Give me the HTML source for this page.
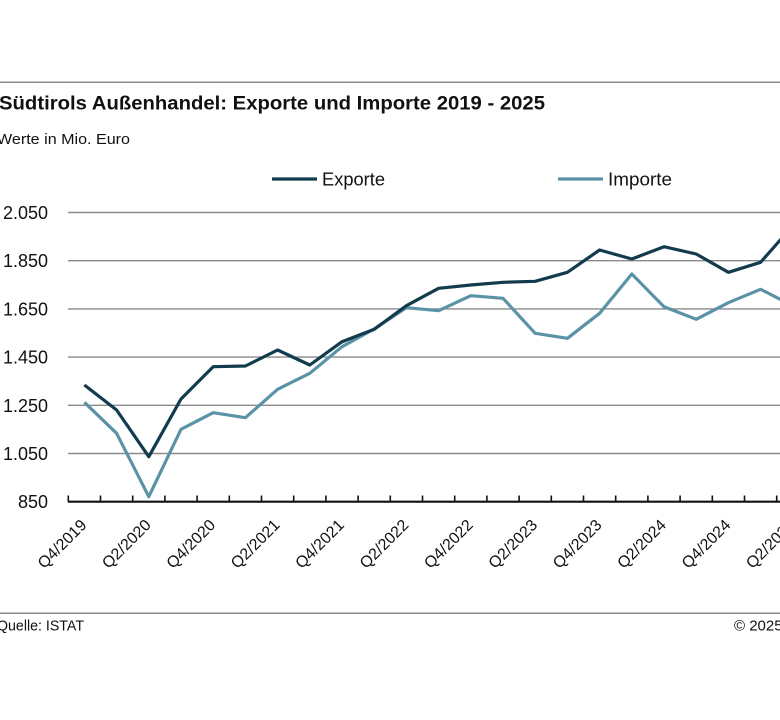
<!DOCTYPE html>
<html><head><meta charset="utf-8"><style>
html,body{margin:0;padding:0;background:#fff;}
svg{display:block;}
text{font-family:"Liberation Sans",sans-serif;fill:#111;}
</style></head><body>
<svg width="780" height="720" viewBox="0 0 780 720" xmlns="http://www.w3.org/2000/svg">
<rect width="780" height="720" fill="#fff"/>
<line x1="0" y1="82.3" x2="780" y2="82.3" stroke="#8a8a8a" stroke-width="1.5"/>
<text x="-1" y="109.3" font-size="19" font-weight="bold" textLength="546" lengthAdjust="spacingAndGlyphs">Südtirols Außenhandel: Exporte und Importe 2019 - 2025</text>
<text x="-3" y="144" font-size="15" textLength="133" lengthAdjust="spacingAndGlyphs">Werte in Mio. Euro</text>
<line x1="272" y1="179" x2="317" y2="179" stroke="#123c4e" stroke-width="3.2"/>
<text x="322" y="185.5" font-size="18" textLength="63" lengthAdjust="spacingAndGlyphs">Exporte</text>
<line x1="558" y1="179" x2="603" y2="179" stroke="#5b93a6" stroke-width="3.2"/>
<text x="608" y="185.5" font-size="18" textLength="64" lengthAdjust="spacingAndGlyphs">Importe</text>
<g stroke="#8a8a8a" stroke-width="1.4">
<line x1="68" y1="212.5" x2="780" y2="212.5"/>
<line x1="68" y1="260.7" x2="780" y2="260.7"/>
<line x1="68" y1="308.9" x2="780" y2="308.9"/>
<line x1="68" y1="357.1" x2="780" y2="357.1"/>
<line x1="68" y1="405.3" x2="780" y2="405.3"/>
<line x1="68" y1="453.5" x2="780" y2="453.5"/>
</g>
<g font-size="18" text-anchor="end">
<text x="48" y="219">2.050</text>
<text x="48" y="267.2">1.850</text>
<text x="48" y="315.4">1.650</text>
<text x="48" y="363.6">1.450</text>
<text x="48" y="411.8">1.250</text>
<text x="48" y="460">1.050</text>
<text x="48" y="508.2">850</text>
</g>
<line x1="68" y1="501.7" x2="780" y2="501.7" stroke="#111" stroke-width="2.2"/>
<g stroke="#111" stroke-width="1.6">
<line x1="68.3" y1="495.5" x2="68.3" y2="501.7"/><line x1="100.5" y1="495.5" x2="100.5" y2="501.7"/><line x1="132.7" y1="495.5" x2="132.7" y2="501.7"/><line x1="164.9" y1="495.5" x2="164.9" y2="501.7"/><line x1="197.1" y1="495.5" x2="197.1" y2="501.7"/><line x1="229.3" y1="495.5" x2="229.3" y2="501.7"/><line x1="261.5" y1="495.5" x2="261.5" y2="501.7"/><line x1="293.7" y1="495.5" x2="293.7" y2="501.7"/><line x1="325.9" y1="495.5" x2="325.9" y2="501.7"/><line x1="358.1" y1="495.5" x2="358.1" y2="501.7"/><line x1="390.3" y1="495.5" x2="390.3" y2="501.7"/><line x1="422.5" y1="495.5" x2="422.5" y2="501.7"/><line x1="454.7" y1="495.5" x2="454.7" y2="501.7"/><line x1="486.9" y1="495.5" x2="486.9" y2="501.7"/><line x1="519.1" y1="495.5" x2="519.1" y2="501.7"/><line x1="551.3" y1="495.5" x2="551.3" y2="501.7"/><line x1="583.5" y1="495.5" x2="583.5" y2="501.7"/><line x1="615.7" y1="495.5" x2="615.7" y2="501.7"/><line x1="647.9" y1="495.5" x2="647.9" y2="501.7"/><line x1="680.1" y1="495.5" x2="680.1" y2="501.7"/><line x1="712.3" y1="495.5" x2="712.3" y2="501.7"/><line x1="744.5" y1="495.5" x2="744.5" y2="501.7"/><line x1="776.7" y1="495.5" x2="776.7" y2="501.7"/>
</g>
<g font-size="16" text-anchor="end">
<text transform="translate(87.5,526) rotate(-45)">Q4/2019</text>
<text transform="translate(151.9,526) rotate(-45)">Q2/2020</text>
<text transform="translate(216.3,526) rotate(-45)">Q4/2020</text>
<text transform="translate(280.7,526) rotate(-45)">Q2/2021</text>
<text transform="translate(345.1,526) rotate(-45)">Q4/2021</text>
<text transform="translate(409.5,526) rotate(-45)">Q2/2022</text>
<text transform="translate(473.9,526) rotate(-45)">Q4/2022</text>
<text transform="translate(538.3,526) rotate(-45)">Q2/2023</text>
<text transform="translate(602.7,526) rotate(-45)">Q4/2023</text>
<text transform="translate(667.1,526) rotate(-45)">Q2/2024</text>
<text transform="translate(731.5,526) rotate(-45)">Q4/2024</text>
<text transform="translate(795.9,526) rotate(-45)">Q2/2025</text>
</g>
<polyline fill="none" stroke="#5b93a6" stroke-width="3.2" stroke-linejoin="round" points="84.4,402.3 116.6,433.3 148.8,496.7 181,429.3 213.2,412.7 245.4,417.7 277.6,389.3 309.8,373.3 342,346.7 374.2,329 406.4,307.7 438.6,310.7 470.8,295.7 503,298.3 535.2,333.3 567.4,338.3 599.6,313.3 631.8,274 664,306.7 696.2,319.3 728.4,302.7 760.6,289.3 792.8,305.7"/>
<polyline fill="none" stroke="#123c4e" stroke-width="3.2" stroke-linejoin="round" points="84.4,385 116.6,410 148.8,456.7 181,399 213.2,366.7 245.4,366 277.6,350 309.8,365 342,341.7 374.2,329.3 406.4,305.7 438.6,288.3 470.8,285 503,282.3 535.2,281.3 567.4,272.3 599.6,250 631.8,259 664,246.7 696.2,254 728.4,272.3 760.6,262.3 792.8,225.7"/>
<line x1="0" y1="613.3" x2="780" y2="613.3" stroke="#8a8a8a" stroke-width="1.5"/>
<text x="-3" y="630.5" font-size="15" textLength="87" lengthAdjust="spacingAndGlyphs">Quelle: ISTAT</text>
<text x="734" y="630.5" font-size="15">© 2025</text>
</svg>
</body></html>
